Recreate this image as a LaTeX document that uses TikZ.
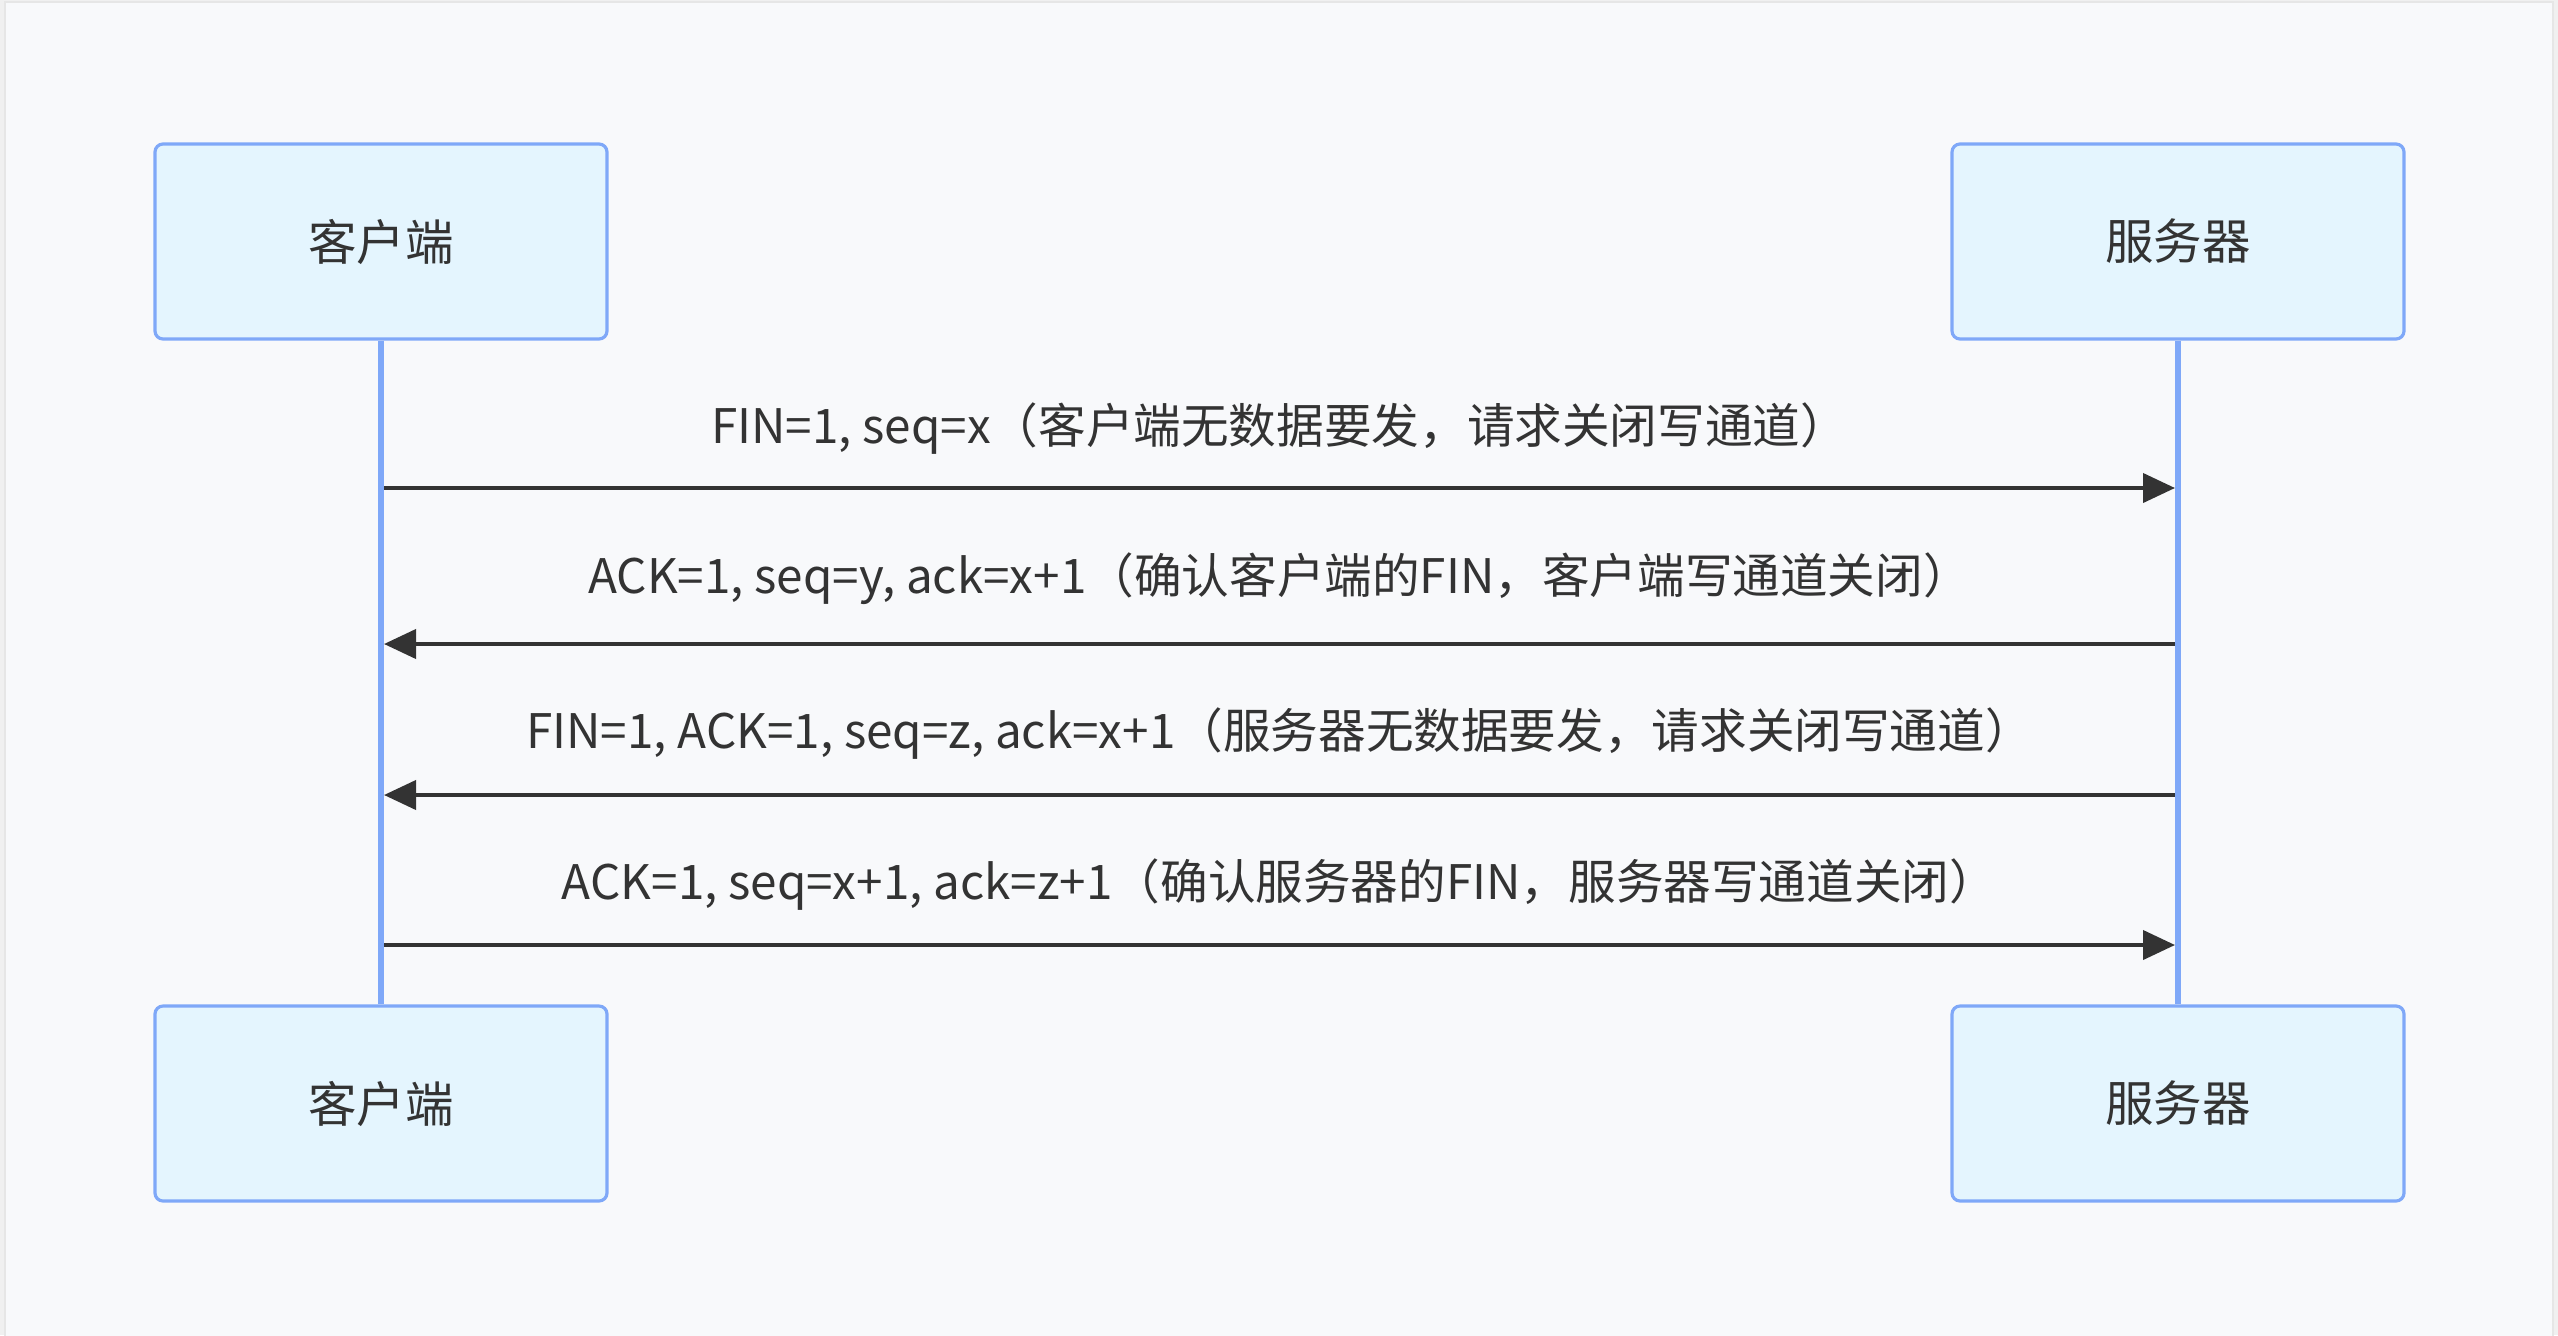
\documentclass[tikz,border=0pt]{standalone}
\usepackage{fontspec}
\setmainfont{Noto Sans CJK SC}
\usetikzlibrary{arrows.meta, positioning}
\definecolor{pagebg}{RGB}{248, 249, 251}
\definecolor{framegray}{RGB}{230, 230, 230}
\definecolor{actorfill}{RGB}{228, 245, 254}
\definecolor{actorline}{RGB}{127, 168, 248}
\definecolor{msgline}{RGB}{51, 51, 51}
\definecolor{textgray}{RGB}{51, 51, 51}

\begin{document}
\begin{tikzpicture}[
            actor/.style={draw=actorline, line width=0.9pt, fill=actorfill, rounded corners=0.08cm, minimum width=4.52cm, minimum height=1.95cm, align=center, font=\fontsize{13.8}{16}\selectfont, text=textgray},
            lifeline/.style={actorline, line width=1.7pt},
            msg/.style={-{Triangle[length=0.32cm, width=0.29cm]}, line width=1.15pt, msgline, shorten >=0.03cm, shorten <=0.03cm},
            msglabel/.style={font=\fontsize{13.55}{16}\selectfont, text=textgray}
        ]
            \useasboundingbox (0,0) rectangle (25.58,13.35);
            \fill[framegray!60] (0,0) rectangle (25.58,13.35);
            \draw[framegray, fill=pagebg, line width=0.6pt] (0.05,-0.2) rectangle (25.53,13.33);

            \node[actor] (client) at (3.81,10.935) {客户端};
            \node[actor] (server) at (21.78,10.935) {服务器};
            \node[actor] (clientend) at (3.81,2.315) {客户端};
            \node[actor] (serverend) at (21.78,2.315) {服务器};

            \draw[lifeline] (client) -- (clientend);
            \draw[lifeline] (server) -- (serverend);

            % points on the lifelines
            \coordinate (c1) at (3.81,8.47);
            \coordinate (s1) at (21.78,8.47);
            \coordinate (c2) at (3.81,6.91);
            \coordinate (s2) at (21.78,6.91);
            \coordinate (c3) at (3.81,5.40);
            \coordinate (s3) at (21.78,5.40);
            \coordinate (c4) at (3.81,3.90);
            \coordinate (s4) at (21.78,3.90);

            \draw[msg] (c1) -- (s1);
            \draw[msg] (s2) -- (c2);
            \draw[msg] (s3) -- (c3);
            \draw[msg] (c4) -- (s4);

            \node[msglabel] (l1) at (12.795,9.06) {FIN=1, seq=x（客户端无数据要发，请求关闭写通道）};
            \node[msglabel] (l2) at (12.795,7.56) {ACK=1, seq=y, ack=x+1（确认客户端的FIN，客户端写通道关闭）};
            \node[msglabel] (l3) at (12.795,6.01) {FIN=1, ACK=1, seq=z, ack=x+1（服务器无数据要发，请求关闭写通道）};
            \node[msglabel] (l4) at (12.795,4.50) {ACK=1, seq=x+1, ack=z+1（确认服务器的FIN，服务器写通道关闭）};
        \end{tikzpicture}
\end{document}
